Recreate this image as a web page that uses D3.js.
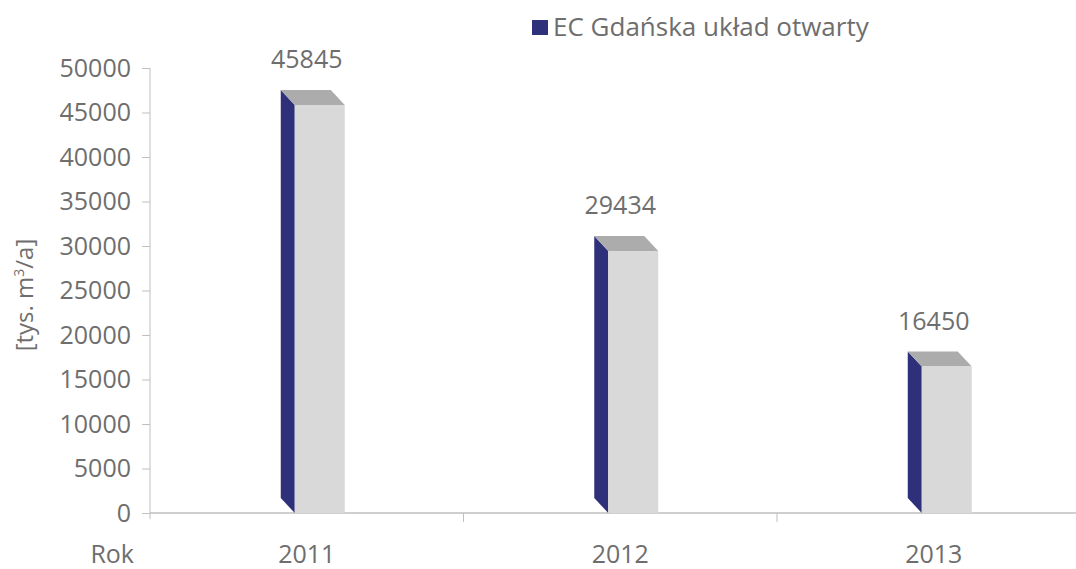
<!DOCTYPE html>
<html>
<head>
<meta charset="utf-8">
<script src="https://cdn.jsdelivr.net/npm/d3@7"></script>
<style>
  body { margin: 0; background: #fff; }
  text { font-family: "Open Sans", "Noto Sans", sans-serif; fill: #6e6e6e; }
</style>
</head>
<body>
<svg width="1076" height="569"></svg>
<script>
var years = ["2011", "2012", "2013"];
var values = [45845, 29434, 16450];
var yTicks = [0, 5000, 10000, 15000, 20000, 25000, 30000, 35000, 40000, 45000, 50000];
var seriesName = "EC Gdańska układ otwarty";

var svg = d3.select("svg");
var dx = 14, dy = 15; // depth of the 3d bars

var x = d3.scaleBand().domain(years).range([150, 1090.5]).padding(0);
var y = d3.scaleLinear().domain([0, 50000]).range([513, 68]);

// axes
var yAxis = svg.append("g")
  .attr("transform", "translate(150,0)")
  .call(d3.axisLeft(y).tickValues(yTicks).tickSize(8).tickPadding(11).tickFormat(d3.format("d")));
yAxis.select(".domain").attr("stroke", "#bfbfbf").attr("d", "M0,68V519");
yAxis.selectAll(".tick line").attr("stroke", "#bfbfbf");
yAxis.selectAll(".tick text").style("font-size", "25px").attr("fill", "#6e6e6e");

svg.append("line")
  .attr("x1", 150).attr("x2", 1076).attr("y1", 513).attr("y2", 513)
  .attr("stroke", "#bfbfbf").attr("stroke-width", 1.5);

// category boundary ticks
svg.selectAll(".xtick")
  .data(years.slice(1))
  .enter().append("line")
  .attr("class", "xtick")
  .attr("x1", function(d) { return x(d); })
  .attr("x2", function(d) { return x(d); })
  .attr("y1", 513).attr("y2", 522)
  .attr("stroke", "#bfbfbf");

svg.selectAll(".xlabel")
  .data(years)
  .enter().append("text")
  .attr("class", "xlabel")
  .attr("x", function(d) { return x(d) + x.bandwidth() / 2; })
  .attr("y", 563)
  .attr("text-anchor", "middle")
  .style("font-size", "25px")
  .text(function(d) { return d; });

svg.append("text")
  .attr("x", 134).attr("y", 563)
  .attr("text-anchor", "end")
  .style("font-size", "25px")
  .text("Rok");

// y title
var yt = svg.append("text")
  .attr("transform", "translate(33,295) rotate(-90)")
  .attr("text-anchor", "middle")
  .style("font-size", "24px");
yt.append("tspan").text("[tys. m");
yt.append("tspan").attr("dy", -9).style("font-size", "14px").text("3");
yt.append("tspan").attr("dy", 9).text("/a]");

// bars
var bars = svg.selectAll(".bar")
  .data(years.map(function(d, i) { return { year: d, value: values[i] }; }))
  .enter().append("g")
  .attr("class", "bar");

function frontLeft(d) { return x(d.year) + x.bandwidth() / 2 - 12; }
var w = 50;

// dark side
bars.append("path")
  .attr("fill", "#2e3179")
  .attr("d", function(d) {
    var x0 = frontLeft(d), t = y(d.value), b = y(0);
    return "M" + (x0 - dx) + "," + (t - dy) + "L" + x0 + "," + t +
      "L" + x0 + "," + b + "L" + (x0 - dx) + "," + (b - dy) + "Z";
  });

// top
bars.append("path")
  .attr("fill", "#acacac")
  .attr("d", function(d) {
    var x0 = frontLeft(d), t = y(d.value);
    return "M" + (x0 - dx) + "," + (t - dy) + "L" + (x0 + w - dx) + "," + (t - dy) +
      "L" + (x0 + w) + "," + t + "L" + x0 + "," + t + "Z";
  });

// front
bars.append("rect")
  .attr("fill", "#d9d9d9")
  .attr("x", function(d) { return frontLeft(d); })
  .attr("y", function(d) { return y(d.value); })
  .attr("width", w)
  .attr("height", function(d) { return y(0) - y(d.value); });

bars.append("text")
  .attr("x", function(d) { return x(d.year) + x.bandwidth() / 2; })
  .attr("y", function(d) { return y(d.value) - dy - 22; })
  .attr("text-anchor", "middle")
  .style("font-size", "25px")
  .text(function(d) { return d.value; });

// legend
var legend = svg.append("g");
legend.append("rect")
  .attr("x", 532).attr("y", 20).attr("width", 16).attr("height", 15)
  .attr("fill", "#2e3179");
legend.append("text")
  .attr("x", 553).attr("y", 36)
  .style("font-size", "26px")
  .text(seriesName);
</script>
</body>
</html>
